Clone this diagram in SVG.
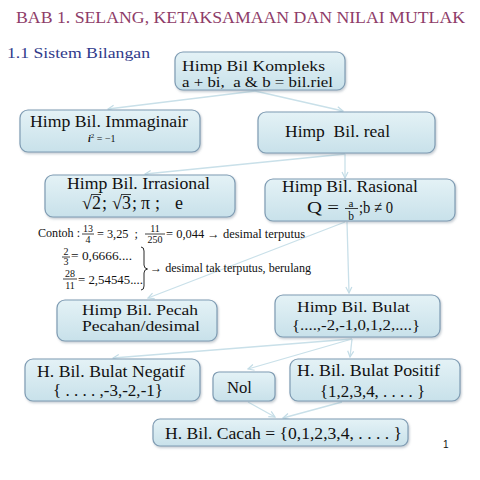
<svg xmlns="http://www.w3.org/2000/svg" width="480" height="480" viewBox="0 0 480 480">
<defs>
<linearGradient id="bg" x1="0" y1="0" x2="0" y2="1">
<stop offset="0" stop-color="#e4f2f6"/>
<stop offset="1" stop-color="#c8e1ea"/>
</linearGradient>
<filter id="sh" x="-10%" y="-10%" width="120%" height="130%">
<feDropShadow dx="1" dy="1.5" stdDeviation="1" flood-color="#7a8c99" flood-opacity="0.45"/>
</filter>
<marker id="ar" viewBox="0 0 8 8" refX="7" refY="4" markerWidth="8" markerHeight="8" markerUnits="userSpaceOnUse" orient="auto">
<path d="M1,1 L7,4 L1,7" fill="none" stroke="#c3dce6" stroke-width="1.2"/>
</marker>
</defs>
<style>
.box{fill:url(#bg);stroke:#7f9cb3;stroke-width:1.2;filter:url(#sh)}
.b{font-size:17px}
.b2{font-size:15.5px}
.s{font-size:12px}
.f{font-size:10px}
.m{font-size:18px}
.c{stroke:#c9e0e9;stroke-width:1.3;fill:none;marker-end:url(#ar)}
.r{stroke:#111;stroke-width:0.8}
</style>
<rect width="480" height="480" fill="#ffffff"/>
<g font-family="Liberation Serif, Times New Roman, serif">
<text x="16" y="23" font-size="16" fill="#8e3c68" textLength="449" lengthAdjust="spacingAndGlyphs">BAB 1. SELANG, KETAKSAMAAN DAN NILAI MUTLAK</text>
<text x="7" y="58" font-size="15" fill="#2f3a8a" textLength="143" lengthAdjust="spacingAndGlyphs">1.1 Sistem Bilangan</text>
</g>

<g id="connectors">
<line class="c" x1="255" y1="91" x2="108" y2="109"/>
<line class="c" x1="255" y1="91" x2="343" y2="111"/>
<line class="c" x1="345" y1="154" x2="145" y2="174"/>
<line class="c" x1="345" y1="154" x2="345" y2="178"/>
<line class="c" x1="345" y1="222" x2="148" y2="298"/>
<line class="c" x1="347" y1="222" x2="349" y2="293"/>
<line class="c" x1="352" y1="339" x2="113" y2="358"/>
<line class="c" x1="352" y1="339" x2="248" y2="369"/>
<line class="c" x1="352" y1="339" x2="350" y2="357"/>
<line class="c" x1="248" y1="402" x2="275" y2="417"/>
<line class="c" x1="342" y1="402" x2="283" y2="418"/>
</g>

<g font-family="Liberation Serif, Times New Roman, serif" fill="#111">
<g id="kompleks">
<rect class="box" x="175" y="52" width="170" height="38" rx="8"/>
<text class="b2" x="182" y="71" textLength="143" lengthAdjust="spacingAndGlyphs">Himp Bil Kompleks</text>
<text class="b2" x="182" y="87" textLength="151" lengthAdjust="spacingAndGlyphs" xml:space="preserve">a + bi,  a &amp; b = bil.riel</text>
</g>

<g id="immaginair">
<rect class="box" x="20" y="110" width="180" height="42" rx="8"/>
<text class="b" x="30" y="127" textLength="158" lengthAdjust="spacingAndGlyphs">Himp Bil. Immaginair</text>
<text x="88" y="142" font-size="10"><tspan font-style="italic" font-weight="bold">i</tspan><tspan dy="-4" font-size="7">2</tspan><tspan dy="4"> = −1</tspan></text>
</g>

<g id="real">
<rect class="box" x="258" y="112" width="177" height="41" rx="8"/>
<text class="b" x="285" y="137" textLength="105" lengthAdjust="spacingAndGlyphs" xml:space="preserve">Himp  Bil. real</text>
</g>

<g id="irrasional">
<rect class="box" x="45" y="175" width="190" height="42" rx="8"/>
<text class="b" x="67" y="189" textLength="143" lengthAdjust="spacingAndGlyphs">Himp Bil. Irrasional</text>
<text class="m" y="209"><tspan x="82">√</tspan><tspan x="92">2</tspan><tspan x="102">;</tspan><tspan x="112">√</tspan><tspan x="122">3</tspan><tspan x="132">;</tspan><tspan x="141">π</tspan><tspan x="155">;</tspan><tspan x="175">e</tspan></text>
<line class="r" x1="91" y1="194.5" x2="101" y2="194.5"/>
<line class="r" x1="121" y1="194.5" x2="131" y2="194.5"/>
</g>

<g id="rasional">
<rect class="box" x="265" y="179" width="190" height="42" rx="8"/>
<text class="b" x="282" y="192" textLength="136" lengthAdjust="spacingAndGlyphs">Himp Bil. Rasional</text>
<text x="307" y="213" font-size="17" textLength="32" lengthAdjust="spacingAndGlyphs">Q =</text>
<text x="351" y="206.5" font-size="11" text-anchor="middle">a</text>
<line class="r" x1="345" y1="208.5" x2="358" y2="208.5"/>
<text x="351" y="220" font-size="11.5" text-anchor="middle">b</text>
<text x="359" y="213" font-size="17" textLength="34" lengthAdjust="spacingAndGlyphs">;b ≠ 0</text>
</g>

<g id="contoh">
<text class="s" x="38" y="237" textLength="42" lengthAdjust="spacingAndGlyphs">Contoh :</text>
<text class="f" x="88" y="232" text-anchor="middle">13</text>
<line class="r" x1="82" y1="234" x2="94" y2="234"/>
<text class="f" x="88" y="243" text-anchor="middle">4</text>
<text class="s" x="97" y="238" textLength="41" lengthAdjust="spacingAndGlyphs" xml:space="preserve">= 3,25  ;</text>
<text class="f" x="155" y="232" text-anchor="middle">11</text>
<line class="r" x1="145" y1="234" x2="165" y2="234"/>
<text class="f" x="155" y="243" text-anchor="middle">250</text>
<text class="s" x="166" y="238" textLength="139" lengthAdjust="spacingAndGlyphs">= 0,044 → desimal terputus</text>

<text class="f" x="66" y="255" text-anchor="middle">2</text>
<line class="r" x1="62" y1="257" x2="70" y2="257"/>
<text class="f" x="66" y="265" text-anchor="middle">3</text>
<text class="s" x="71" y="260" textLength="61" lengthAdjust="spacingAndGlyphs">= 0,6666....</text>

<text class="f" x="70" y="277" text-anchor="middle">28</text>
<line class="r" x1="63" y1="279" x2="77" y2="279"/>
<text class="f" x="70" y="289" text-anchor="middle">11</text>
<text class="s" x="78" y="284" textLength="65" lengthAdjust="spacingAndGlyphs">= 2,54545....</text>

<path d="M141,247 Q144,247 144,251 L144,265 Q144,268.5 147.5,269 Q144,269.5 144,273 L144,286 Q144,290 141,290" fill="none" stroke="#111" stroke-width="0.9"/>
<text class="s" x="150" y="272" textLength="161" lengthAdjust="spacingAndGlyphs">→ desimal tak terputus, berulang</text>
</g>

<g id="pecah">
<rect class="box" x="57" y="300" width="160" height="41" rx="8"/>
<text class="b2" x="82" y="315" textLength="116" lengthAdjust="spacingAndGlyphs">Himp Bil. Pecah</text>
<text class="b2" x="82" y="331" textLength="118" lengthAdjust="spacingAndGlyphs">Pecahan/desimal</text>
</g>

<g id="bulat">
<rect class="box" x="275" y="295" width="165" height="42" rx="8"/>
<text class="b2" x="297" y="312" textLength="113" lengthAdjust="spacingAndGlyphs">Himp Bil. Bulat</text>
<text class="b2" x="292" y="330" textLength="128" lengthAdjust="spacingAndGlyphs">{....,-2,-1,0,1,2,....}</text>
</g>

<g id="negatif">
<rect class="box" x="25" y="359" width="175" height="42" rx="8"/>
<text class="b" x="37" y="377" textLength="148" lengthAdjust="spacingAndGlyphs">H. Bil. Bulat Negatif</text>
<text class="b" x="53" y="396" textLength="110" lengthAdjust="spacingAndGlyphs">{ . . . . ,-3,-2,-1}</text>
</g>

<g id="nol">
<rect class="box" x="213" y="372" width="62" height="29" rx="6"/>
<text class="b" x="227" y="393" textLength="25" lengthAdjust="spacingAndGlyphs">Nol</text>
</g>

<g id="positif">
<rect class="box" x="290" y="359" width="170" height="42" rx="8"/>
<text class="b" x="297" y="376" textLength="143" lengthAdjust="spacingAndGlyphs">H. Bil. Bulat Positif</text>
<text class="b" x="320" y="397" textLength="105" lengthAdjust="spacingAndGlyphs">{1,2,3,4, . . . . }</text>
</g>

<g id="cacah">
<rect class="box" x="153" y="419" width="255" height="27" rx="7"/>
<text class="b" x="165" y="439" textLength="237" lengthAdjust="spacingAndGlyphs">H. Bil. Cacah = {0,1,2,3,4, . . . . }</text>
</g>
</g>

<text x="443" y="448" font-family="Liberation Sans, Arial, sans-serif" font-size="10" fill="#111">1</text>
</svg>
